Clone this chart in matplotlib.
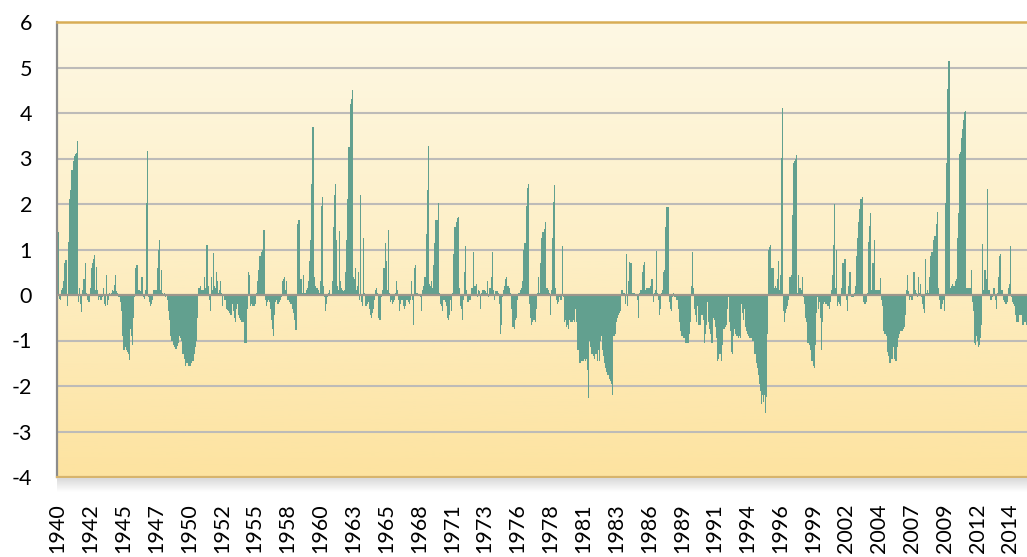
import numpy as np
import matplotlib
matplotlib.use("Agg")
import matplotlib.pyplot as plt
from matplotlib.colors import LinearSegmentedColormap

# monthly values, one list per decade (Jan 1940 onwards)
vals_1940s = [
    1.05, 1.38, -0.08, -0.12, 0.1, 0.15, 0.3, 0.7, 0.78, -0.25, 1.17, 2.1,
    2.3, 2.75, 2.75, 2.95, 3.05, 3.1, 3.12, 3.38, -0.15, 0.15, -0.2, -0.37,
    0.1, 0.35, 0.7, 0.05, -0.1, -0.15, -0.15, 0.15, 0.6, 0.7, 0.8, 0.87,
    0.1, 0.62, 0.1, -0.1, -0.05, -0.1, -0.05, 0.15, -0.2, -0.25, 0.45, -0.22,
    -0.1, 0.05, -0.03, 0.05, 0.1, 0.08, 0.22, 0.45, 0.08, 0.05, -0.05, -0.15,
    -0.35, -0.9, -1.2, -1.2, -1.15, -1.2, -1.25, -1.3, -1.42, -0.75, -0.9, -1.1,
    -0.5, -0.05, 0.6, 0.65, 0.1, 0.12, 0.08, 0.4, 0.4, -0.05, -0.08, 0.1,
    2.02, 3.17, -0.05, -0.15, -0.25, -0.2, -0.1, 0.1, 0.1, 0.1, 0.6, 0.98,
    1.2, 0.1, 0.55, 0.05, 0.03, 0.05, -0.05, -0.03, -0.1, -0.35, -0.55, -0.9,
    -1.0, -1.1, -1.15, -1.18, -1.18, -1.12, -1.05, -0.9, -0.95, -1.0, -1.3, -1.3,
]
vals_1950s = [
    -1.4, -1.55, -1.5, -1.5, -1.55, -1.55, -1.5, -1.45, -1.45, -1.3, -1.15, -1.0,
    -0.5, 0.15, 0.15, 0.2, 0.1, 0.12, 0.1, 0.4, 0.15, 1.1, 0.2, -0.12,
    -0.35, 0.4, 0.1, 0.93, 0.2, 0.15, 0.5, 0.3, 0.05, 0.1, 0.3, 0.05,
    -0.25, -0.02, -0.1, -0.3, -0.32, -0.35, -0.4, -0.45, -0.45, -0.2, -0.35, -0.5,
    -0.6, -0.3, -0.2, -0.45, -0.5, -0.55, -0.6, -0.6, -1.05, -1.05, -1.05, -0.3,
    0.5, 0.45, -0.25, -0.2, -0.25, -0.25, -0.25, -0.2, 0.05, 0.3, 0.55, 0.85,
    0.95, 1.0, 1.42, 1.42, -0.1, -0.25, -0.15, -0.1, -0.15, -0.3, -0.55, -0.75,
    -0.9, -0.45, -0.15, -0.1, -0.2, -0.15, -0.1, -0.05, 0.3, 0.35, 0.4, 0.1,
    0.3, -0.1, -0.1, -0.15, -0.2, -0.2, -0.3, -0.4, -0.55, -0.78, 1.55, 1.65,
    1.65, 0.35, 0.35, 0.05, 0.45, 0.05, 0.05, 0.1, 0.15, 0.3, 0.75, 1.2,
]
vals_1960s = [
    2.45, 3.7, 0.4, 0.2, 0.15, 0.15, 0.1, 0.05, 0.3, 1.95, 2.15, 0.2,
    -0.05, -0.35, -0.2, -0.05, 0.05, 0.1, 0.0, 0.3, 1.5, 2.2, 2.45, 1.2,
    0.2, 0.1, 1.4, 0.3, 0.15, 0.12, 0.08, 0.1, 0.5, 1.2, 2.1, 3.25,
    4.2, 4.3, 4.5, 0.4, 0.35, 0.6, 0.1, 0.2, 0.5, -0.1, 2.2, -0.15,
    -0.25, 1.25, 0.05, -0.25, -0.2, -0.15, -0.3, -0.45, -0.5, -0.4, -0.3, -0.1,
    0.1, 0.15, 0.05, -0.5, -0.55, -0.55, -0.05, 0.1, 0.6, 1.15, 0.75, 0.1,
    1.42, 0.05, -0.15, -0.1, -0.2, -0.15, -0.1, 0.05, 0.3, 0.1, -0.1, -0.35,
    -0.2, -0.1, -0.25, -0.3, -0.25, -0.1, -0.1, -0.15, -0.2, -0.1, 0.3, -0.1,
    -0.65, 0.6, 0.65, 0.05, 0.05, 0.03, -0.05, -0.35, 0.1, 0.2, 0.4, 0.4,
    1.35, 2.3, 3.27, 0.25, 0.2, 0.3, 0.15, 0.65, 1.15, 1.65, 1.65, 2.03,
]
vals_1970s = [
    0.05, -0.2, -0.25, -0.35, -0.1, -0.1, -0.15, -0.25, -0.5, -0.55, -0.45, -0.1,
    -0.35, 0.05, 0.9, 1.5, 1.6, 1.7, 1.72, 0.15, -0.25, -0.3, -0.55, -0.1,
    0.5, 1.07, 0.1, -0.15, -0.15, -0.1, -0.1, 0.15, 0.95, 0.2, 0.2, 0.25,
    -0.05, 0.1, 0.08, -0.3, 0.05, 0.1, 0.12, 0.1, 0.08, 0.05, 0.3, -0.05,
    0.15, 0.4, 0.95, 0.1, -0.12, 0.08, 0.08, 0.08, 0.05, -0.2, -0.85, -0.65,
    -0.05, 0.1, 0.2, 0.35, 0.4, 0.2, 0.15, 0.05, -0.3, -0.7, -0.7, -0.75,
    -0.55, -0.5, -0.1, 0.05, 0.05, 0.1, 0.15, 0.3, 1.0, 1.15, 1.95, 2.35,
    2.43, -0.2, -0.5, -0.65, -0.6, -0.55, -0.55, -0.6, -0.3, 0.05, 0.4, 0.05,
    0.7, 1.25, 1.38, 1.45, 1.6, 0.15, 0.15, 0.1, 0.05, -0.45, 0.1, 1.25,
    2.05, 2.42, 0.15, -0.1, -0.2, -0.15, -0.05, -0.1, 1.07, -0.05, -0.6, -0.55,
]
vals_1980s = [
    -0.7, -0.65, -0.75, -0.55, -0.6, -0.6, -0.6, -0.55, -0.6, -0.3, -0.6, -1.2,
    -1.5, -1.5, -1.45, -1.45, -1.45, -1.4, -1.45, -1.4, -1.65, -2.27, -1.0, -1.15,
    -1.3, -1.3, -1.35, -1.4, -1.3, -1.45, -1.2, -1.45, -1.0, -0.9, -1.2, -1.35,
    -1.5, -1.6, -1.7, -1.75, -1.75, -1.85, -1.9, -1.95, -2.2, -0.9, -0.85, -0.6,
    -0.5, -0.45, -0.4, -0.35, 0.12, 0.1, 0.05, 0.05, -0.2, 0.9, -0.25, 0.3,
    0.72, 0.7, 0.05, 0.05, 0.04, 0.03, 0.0, -0.1, -0.5, 0.05, 0.1, 0.1,
    0.5, 0.65, 0.72, 0.1, 0.15, 0.15, 0.15, 0.2, 0.35, 0.35, -0.15, 0.05,
    0.1, 0.97, 0.05, -0.1, -0.45, -0.3, 0.05, 0.1, 0.5, 0.55, 1.5, 1.93,
    1.93, -0.15, -0.3, -0.35, -0.05, 0.05, -0.05, -0.05, -0.1, -0.1, -0.3, -0.6,
    -0.8, -0.9, -0.9, -0.95, -1.05, -1.05, -1.05, -1.05, -0.85, -0.6, 0.2, 0.95,
]
vals_1990s = [
    0.15, -0.3, -0.45, -0.6, -0.25, -0.65, -0.65, -0.65, -0.45, -0.55, -1.05, -0.85,
    -0.65, -0.15, -0.6, -0.75, -0.85, -1.05, -1.05, -0.5, -0.55, -0.7, -0.95, -1.45,
    -1.4, -1.3, -1.45, -1.1, -0.75, -0.75, -0.7, -0.65, -0.3, -0.05, -0.6, -0.8,
    -1.25, -1.3, -0.9, -0.75, -0.85, -0.9, -0.95, -0.9, -0.95, -0.2, -0.4, -0.55,
    -0.3, -0.7, -0.8, -0.85, -0.9, -0.95, -0.95, -0.95, -1.0, -1.0, -1.3, -1.5,
    -1.6, -1.75, -1.95, -2.1, -2.4, -2.2, -2.35, -2.2, -2.6, -2.25, -0.85, 1.0,
    1.05, 1.1, 0.6, 0.6, 0.15, 0.2, 0.15, 0.35, 0.75, 0.1, 0.45, 3.02,
    4.12, -0.35, -0.6, -0.4, -0.3, -0.25, -0.1, 0.4, 0.45, 1.75, 2.9, 2.95,
    3.0, 3.08, 0.05, 0.45, 0.15, 0.15, 0.1, 0.4, -0.05, -0.2, -0.5, -0.6,
    -1.05, -1.1, -1.2, -1.45, -1.45, -1.55, -1.6, -1.1, -0.4, -0.05, -0.3, -0.15,
]
vals_2000s = [
    -0.5, -1.2, -0.6, -0.2, -0.15, -0.2, -0.25, -0.25, -0.3, -0.15, 0.1, 0.45,
    1.1, 2.0, 0.15, 1.0, -0.25, -0.15, -0.2, -0.25, 0.15, 0.7, 0.8, 0.8,
    -0.1, -0.35, 0.2, 0.5, 0.5, -0.05, -0.05, -0.05, 0.05, 0.2, 0.85, 1.25,
    1.6, 1.9, 2.1, 2.15, -0.15, -0.2, -0.2, -0.15, 0.05, 1.17, 1.52, 1.8,
    0.1, 0.7, 0.7, 1.2, 0.1, 0.1, 0.12, 0.1, 0.38, -0.1, -0.25, -0.8,
    -0.85, -0.85, -0.9, -1.25, -1.35, -1.5, -1.5, -1.4, -1.4, -1.15, -1.4, -1.45,
    -1.15, -0.95, -0.85, -0.8, -0.8, -0.8, -0.75, -0.7, -0.45, 0.1, 0.45, 0.08,
    -0.1, -0.05, -0.1, -0.1, 0.5, 0.1, 0.05, -0.05, 0.4, 0.05, 0.25, -0.05,
    -0.2, -0.3, -0.4, 0.8, 0.05, 0.1, 0.05, 0.4, 0.85, 0.95, 1.2, 1.3,
    1.3, 1.55, 1.82, 0.15, -0.1, -0.3, -0.3, -0.2, -0.1, -0.35, 2.03, 2.9,
]
vals_2010s = [
    4.52, 5.14, 0.15, 0.2, 0.25, 0.2, 0.2, 0.3, 0.35, 1.25, 1.8, 3.1,
    3.15, 3.45, 3.65, 3.85, 4.02, 4.05, 0.15, 0.15, 0.15, 0.15, 0.55, -0.15,
    -0.35, -1.05, -1.1, -0.9, -1.0, -1.15, -1.1, -0.95, -0.65, 1.12, 0.1, 0.55,
    0.35, 2.34, 0.1, 0.1, -0.1, -0.1, -0.05, 0.15, 0.15, -0.1, -0.3, 0.05,
    0.4, 0.85, 0.9, 0.1, -0.1, -0.15, -0.2, -0.2, -0.15, 0.15, 0.25, 1.08,
    -0.05, -0.15, -0.2, -0.25, -0.45, -0.6, -0.6, -0.6, -0.45, -0.45, -0.65, -0.65,
    -0.6, -0.6, -0.65, -0.6,
]

tick_years = [1940, 1942, 1945, 1947, 1950, 1952, 1955, 1958, 1960, 1963,
              1965, 1968, 1971, 1973, 1976, 1978, 1981, 1983, 1986, 1989,
              1991, 1994, 1996, 1999, 2002, 2004, 2007, 2009, 2012, 2014]
label_step = 31  # one category label every 31 months

values = np.array(vals_1940s + vals_1950s + vals_1960s + vals_1970s +
                  vals_1980s + vals_1990s + vals_2000s + vals_2010s)
months = np.arange(len(values))

plt.rcParams['font.family'] = ['Lato', 'DejaVu Sans']

fig = plt.figure(figsize=(10.27, 5.57), dpi=100)
ax = fig.add_axes([57 / 1027, 1 - 477 / 557, 970 / 1027, 455 / 557])

x_min, x_max = -0.5, 914.6
y_min, y_max = -4, 6

# plot-area background gradient
bg = LinearSegmentedColormap.from_list("bg", ["#fde3a0", "#fdefc6", "#fef8e4"])
grad = np.linspace(0, 1, 256).reshape(-1, 1)
ax.imshow(grad, extent=[x_min, x_max, y_min, y_max], origin="lower",
          aspect="auto", cmap=bg, zorder=0, interpolation="bicubic")

# grid lines
for yv in range(-3, 6):
    if yv == 0:
        continue
    ax.axhline(yv, color="#bdbbb8", lw=1.5, zorder=1)

ax.bar(months, values, width=1.0, color="#62a08f", linewidth=0, zorder=2)
ax.axhline(0, color="#9d968c", lw=1.6, zorder=3)

ax.set_xlim(x_min, x_max)
ax.set_ylim(y_min, y_max)

ax.set_yticks(range(-4, 7))
ax.set_yticklabels([str(v) for v in range(-4, 7)], fontsize=15.5)
tick_pos = [i * label_step for i in range(len(tick_years))]
ax.set_xticks(tick_pos)
ax.set_xticklabels([str(y) for y in tick_years], rotation=90, fontsize=15.5)
ax.tick_params(axis="both", length=0, colors="#000000")
ax.tick_params(axis="y", pad=18)
ax.tick_params(axis="x", pad=19)

ax.spines["right"].set_visible(False)
ax.spines["left"].set_color("#8c8c8c")
ax.spines["left"].set_linewidth(1.6)
ax.spines["top"].set_color("#d8ad56")
ax.spines["top"].set_linewidth(1.8)
ax.spines["bottom"].set_color("#d7b46c")
ax.spines["bottom"].set_linewidth(1.6)

# soft shadow under the plot area
sh = fig.add_axes([57 / 1027, 1 - 492 / 557, 970 / 1027, 14 / 557])
shade = np.linspace(0, 1, 64).reshape(-1, 1)
sh.imshow(shade, aspect="auto", cmap=LinearSegmentedColormap.from_list(
    "sh", ["#ffffff", "#d9d9d9"]), origin="lower", extent=[0, 1, 0, 1])
sh.set_axis_off()

fig.savefig("out.png", dpi=100)
